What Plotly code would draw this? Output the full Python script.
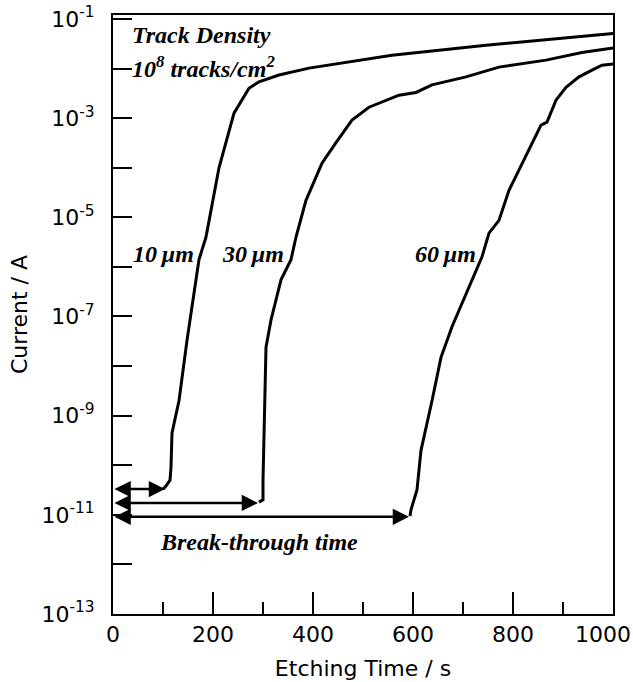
import numpy as np
import plotly.graph_objects as go

# ---- data ----
t_10 = [100, 106, 114, 116, 118, 132, 148, 160, 172, 186, 212, 242, 272, 292, 332, 392, 472, 558, 746, 906, 1000]
i_10 = [3.3e-11, 3.8e-11, 5.0e-11, 9.1e-11, 4.5e-10, 2.0e-9, 3.3e-8, 2.1e-7, 1.4e-6, 4.0e-6, 1.0e-4,
        1.26e-3, 4.0e-3, 5.4e-3, 7.4e-3, 1.02e-2, 1.35e-2, 1.86e-2, 2.95e-2, 4.1e-2, 5.1e-2]

t_30 = [292, 300, 300, 302, 304, 306, 316, 336, 356, 366, 386, 418, 446, 478, 512, 572, 606, 638, 706, 772, 866, 938, 1000]
i_30 = [1.8e-11, 2.0e-11, 5.0e-11, 3.2e-10, 2.0e-9, 2.4e-8, 8.5e-8, 5.5e-7, 1.4e-6, 4.0e-6, 2.2e-5,
        1.23e-4, 3.2e-4, 9.1e-4, 1.66e-3, 2.9e-3, 3.3e-3, 4.7e-3, 6.8e-3, 1.07e-2, 1.48e-2, 2.1e-2, 2.6e-2]

t_60 = [594, 596, 608, 616, 638, 656, 678, 726, 738, 752, 772, 792, 818, 838, 856, 868, 886, 906, 932, 958, 978, 1000]
i_60 = [9.5e-12, 1.26e-11, 3.2e-11, 2.0e-10, 2.0e-9, 1.5e-8, 6.2e-8, 8.7e-7, 1.6e-6, 4.8e-6, 8.7e-6,
        3.5e-5, 1.23e-4, 3.2e-4, 7.2e-4, 8.3e-4, 2.3e-3, 4.2e-3, 6.8e-3, 9.3e-3, 1.17e-2, 1.23e-2]

breakthrough_t = [104, 290, 592]
breakthrough_i = [3.3e-11, 1.74e-11, 9.1e-12]

curve_labels = ["10\u2009\u03bcm", "30\u2009\u03bcm", "60\u2009\u03bcm"]
curve_label_t = [36, 214, 600]
curve_label_i = [1.8e-6, 1.8e-6, 1.8e-6]

y_exponents = list(range(-13, 0))
y_tickvals = [10.0 ** e for e in y_exponents]
y_ticktext = [f"10<sup>{e}</sup>" if e % 2 != 0 else "" for e in y_exponents]

x_tickvals = [0, 200, 400, 600, 800, 1000]
x_ticktext = ["0", "200", "400", "600", "800", ""]   # last label drawn below, kept inside the page
x_last_label = "1000"

# ---- figure ----
fig = go.Figure()
for t, i in [(t_10, i_10), (t_30, i_30), (t_60, i_60)]:
    fig.add_trace(go.Scatter(x=t, y=i, mode="lines",
                             line=dict(color="black", width=3),
                             showlegend=False, hoverinfo="skip"))

serif = dict(family="Liberation Serif", size=24, color="black")
sans = dict(family="DejaVu Sans", size=22, color="black")
annotations = []
# break-through arrows
for bt, bi in zip(breakthrough_t, breakthrough_i):
    annotations.append(dict(x=bt, y=np.log10(bi), ax=0, ay=np.log10(bi),
                            xref="x", yref="y", axref="x", ayref="y",
                            text="", showarrow=True, arrowhead=2, arrowside="end+start",
                            arrowsize=1.3, arrowwidth=2.5, arrowcolor="black"))
for lab, lt, li in zip(curve_labels, curve_label_t, curve_label_i):
    annotations.append(dict(x=lt, y=np.log10(li), xref="x", yref="y",
                            text=f"<b><i>{lab}</i></b>", showarrow=False,
                            xanchor="left", yanchor="middle", font=serif))
annotations.append(dict(x=34, y=-1.33, xref="x", yref="y", text="<b><i>Track Density</i></b>",
                        showarrow=False, xanchor="left", yanchor="middle", font=serif))
annotations.append(dict(x=34, y=-1.97, xref="x", yref="y",
                        text="<b><i>10<sup>8</sup> tracks/cm<sup>2</sup></i></b>",
                        showarrow=False, xanchor="left", yanchor="middle", font=serif))
annotations.append(dict(x=90, y=-11.55, xref="x", yref="y", text="<b><i>Break-through time</i></b>",
                        showarrow=False, xanchor="left", yanchor="middle", font=serif))
annotations.append(dict(x=x_tickvals[-1], y=0, xref="x", yref="paper", text=x_last_label,
                        showarrow=False, xanchor="right", yanchor="top", xshift=20, yshift=-6,
                        font=sans))

fig.update_layout(
    width=633, height=682,
    margin=dict(l=113, r=20, t=15, b=68),
    paper_bgcolor="white", plot_bgcolor="white",
    annotations=annotations,
    xaxis=dict(range=[0, 1000], tickvals=x_tickvals, ticktext=x_ticktext, ticks="inside", ticklen=22,
               tickwidth=2, tickcolor="black", showline=True, linewidth=2, linecolor="black", mirror=True,
               showgrid=False, zeroline=False, tickfont=sans, automargin=False,
               minor=dict(dtick=100, ticks="inside", ticklen=12, tickwidth=2, tickcolor="black", showgrid=False),
               title=dict(text="Etching Time / s", font=sans, standoff=14)),
    yaxis=dict(type="log", range=[-13, -0.92], tickvals=y_tickvals, ticktext=y_ticktext,
               ticks="inside", ticklen=19, tickwidth=2, tickcolor="black",
               showline=True, linewidth=2, linecolor="black", mirror=True, automargin=False,
               showgrid=False, zeroline=False, tickfont=sans, ticklabelstandoff=12,
               title=dict(text="Current / A", font=sans, standoff=8)),
)

fig.write_html("out.html",
               config={"displayModeBar": False, "responsive": False},
               post_script="document.body.style.margin='0';"
                           "document.documentElement.style.overflow='hidden';"
                           "document.body.style.overflow='hidden';")
